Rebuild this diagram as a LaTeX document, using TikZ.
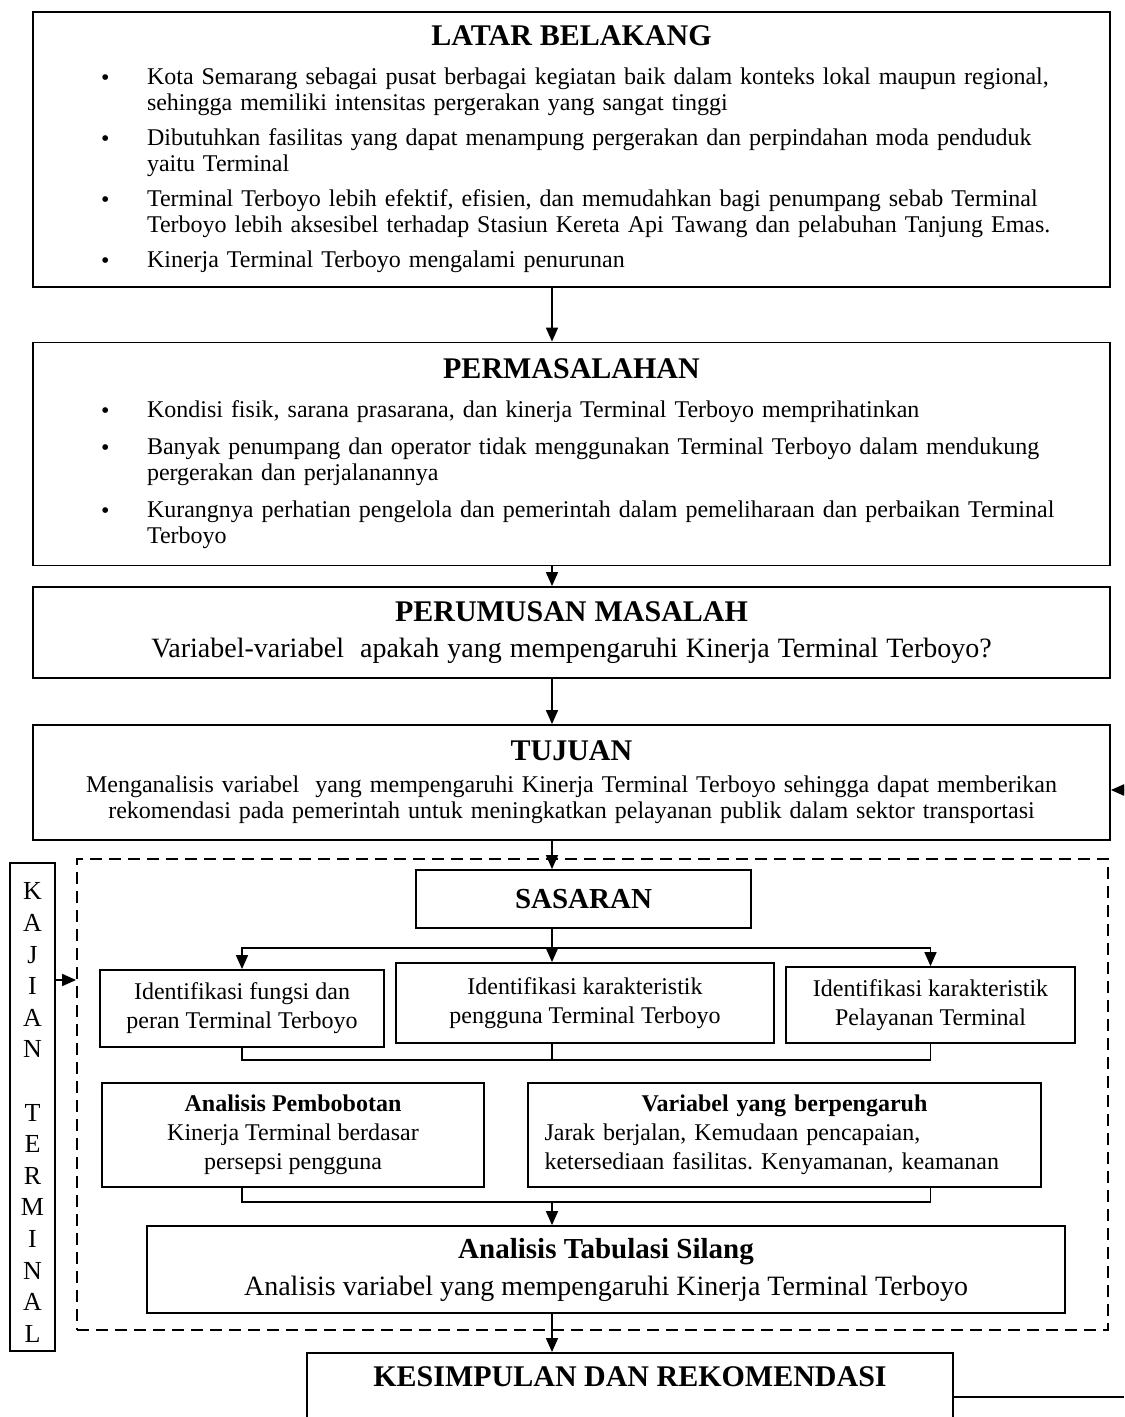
\documentclass[tikz,border=0pt]{standalone}
\usepackage{fontspec}
\setmainfont{Liberation Serif}
\usepackage{tikz}
\usetikzlibrary{arrows.meta}

\newcommand{\butir}[1]{\par\hangindent=23pt\hangafter=1\noindent\makebox[23pt][l]{\raisebox{-0.5pt}{\large\textbullet}}#1\par}
\newcommand{\judul}{\fontsize{15}{18}\selectfont\bfseries}

\begin{document}
\begin{tikzpicture}[x=0.5pt,y=-0.5pt]
		\tikzstyle{KotakBesar}=[draw,line width=0.9pt,inner xsep=0pt,text width=538.5pt,minimum width=538.5pt,font=\fontsize{12}{13}\selectfont]
		\tikzstyle{KotakKecil}=[draw,line width=0.9pt,align=center,font=\fontsize{12}{14.5}\selectfont]
		\tikzstyle{ArrowStyle}=[-{Triangle[length=7pt,width=6pt]},line width=0.8pt]
		\path[use as bounding box,clip] (0,0) rectangle (1124,1417);
		% kotak atas
		\node[KotakBesar,minimum height=137.5pt] (latar) at (571.5,149.5) {%
			{\centering\judul LATAR BELAKANG\par}
			\vspace{2pt}
			\raggedright\leftskip=34pt\parskip=4.5pt
			\butir{Kota Semarang sebagai pusat berbagai kegiatan baik dalam konteks lokal maupun regional,\newline sehingga memiliki intensitas pergerakan yang sangat tinggi}
			\butir{Dibutuhkan fasilitas yang dapat menampung pergerakan dan perpindahan moda penduduk\newline yaitu Terminal}
			\butir{Terminal Terboyo lebih efektif, efisien, dan memudahkan bagi penumpang sebab Terminal\newline Terboyo lebih aksesibel terhadap Stasiun Kereta Api Tawang dan pelabuhan Tanjung Emas.}
			\butir{Kinerja Terminal Terboyo mengalami penurunan}};
		\node[KotakBesar,minimum height=111.5pt] (masalah) at (571.5,454) {%
			{\centering\judul PERMASALAHAN\par}
			\vspace{1pt}
			\raggedright\leftskip=34pt\parskip=5.5pt
			\butir{Kondisi fisik, sarana prasarana, dan kinerja Terminal Terboyo memprihatinkan}
			\butir{Banyak penumpang dan operator tidak menggunakan Terminal Terboyo dalam mendukung\newline pergerakan dan perjalanannya}
			\butir{Kurangnya perhatian pengelola dan pemerintah dalam pemeliharaan dan perbaikan Terminal\newline Terboyo}};
		\node[KotakBesar,align=center,minimum height=45.5pt] (rumusan) at (571.5,632.5)
			{{\judul PERUMUSAN MASALAH}\\[5pt]
			{\fontsize{14}{16}\selectfont Variabel-variabel\ \ apakah yang mempengaruhi Kinerja Terminal Terboyo?}};
		\node[KotakBesar,align=center,minimum height=57.5pt] (tujuan) at (571.5,782.5)
			{{\judul TUJUAN}\\[3pt]
			Menganalisis variabel\ \ yang mempengaruhi Kinerja Terminal Terboyo sehingga dapat memberikan\\
			rekomendasi pada pemerintah untuk meningkatkan pelayanan publik dalam sektor transportasi};
		% kajian terminal
		\node[draw,dashed,dash pattern=on 6pt off 3.5pt,line width=0.9pt,minimum width=515.5pt,minimum height=235.5pt] (kotak) at (592.5,1094.5) {};
		\node[draw,line width=0.9pt,minimum width=22.5pt,minimum height=244pt,align=center,inner sep=0pt,
			font=\fontsize{13}{15.8}\selectfont] (kajian) at (32.5,1107)
			{\rule{0pt}{14pt}K\\A\\J\\I\\A\\N\\\mbox{}\\T\\E\\R\\M\\I\\N\\A\\L};
		\node[KotakKecil,minimum width=167.5pt,minimum height=29pt,font=\fontsize{14.5}{16}\selectfont\bfseries] (sasaran) at (583.5,899) {SASARAN};
		\node[KotakKecil,minimum width=142pt,minimum height=38.5pt] (idfungsi) at (242,1008.5)
			{Identifikasi fungsi dan\\peran Terminal Terboyo};
		\node[KotakKecil,minimum width=189pt,minimum height=40pt] (idpengguna) at (585,1003)
			{Identifikasi karakteristik\\pengguna Terminal Terboyo};
		\node[KotakKecil,minimum width=144.5pt,minimum height=38pt] (idpelayanan) at (930.5,1005)
			{Identifikasi karakteristik\\Pelayanan Terminal};
		\node[KotakKecil,minimum width=191pt,minimum height=52pt] (bobot) at (293,1135)
			{\textbf{Analisis Pembobotan}\\Kinerja Terminal berdasar\\persepsi pengguna};
		\node[KotakKecil,align=left,text width=240pt,inner xsep=8.25pt,minimum height=52pt] (variabel) at (784.5,1135)
			{{\centering\bfseries Variabel yang berpengaruh\par}
			\noindent Jarak berjalan, Kemudaan pencapaian,\newline ketersediaan fasilitas.\ Kenyamanan, keamanan};
		\node[KotakKecil,minimum width=459pt,minimum height=43.5pt] (tabulasi) at (606,1269.5)
			{{\fontsize{14.5}{17}\selectfont\bfseries Analisis Tabulasi Silang}\\[4pt]
			{\fontsize{14}{16}\selectfont Analisis variabel yang mempengaruhi Kinerja Terminal Terboyo}};
		\node[draw,line width=0.9pt,anchor=north,minimum width=323pt,inner ysep=6pt,text height=11pt,text depth=40pt,
			font=\judul] (simpulan) at (630,1352) {KESIMPULAN DAN REKOMENDASI};
		% titik bantu
		\coordinate (poros) at (552,0);
		\coordinate (cabang) at (552,948);
		\coordinate (gabung) at (552,1060);
		\coordinate (gabung2) at (552,1202);
		\coordinate (panah) at (0,980);
		\coordinate (balik) at (1124,790);
		\coordinate (ujung) at (1124,1397);
		\draw[ArrowStyle] (poros |- latar.south) -- (poros |- masalah.north);
		\draw[ArrowStyle] (poros |- masalah.south) -- (poros |- rumusan.north);
		\draw[ArrowStyle] (poros |- rumusan.south) -- (poros |- tujuan.north);
		\draw[ArrowStyle] (poros |- tujuan.south) -- (poros |- sasaran.north);
		\draw[ArrowStyle] (balik) -- (balik -| tujuan.east);
		\draw[ArrowStyle] (kajian.east |- panah) -- (kotak.west |- panah);
		\draw[ArrowStyle] (poros |- sasaran.south) -- (poros |- idpengguna.north);
		\draw[ArrowStyle] (cabang) -| (idfungsi.north);
		\draw[ArrowStyle] (cabang) -| (idpelayanan.north);
		\draw[line width=0.8pt] (idfungsi.south) |- (gabung) -| (idpelayanan.south);
		\draw[line width=0.8pt] (poros |- idpengguna.south) -- (gabung);
		\draw[line width=0.8pt] (bobot.south -| idfungsi) |- (gabung2) -| (variabel.south -| idpelayanan);
		\draw[ArrowStyle] (gabung2) -- (poros |- tabulasi.north);
		\draw[ArrowStyle] (poros |- tabulasi.south) -- (poros |- simpulan.north);
		\draw[line width=0.8pt] (ujung -| simpulan.east) -- (ujung);
	\end{tikzpicture}
\end{document}
